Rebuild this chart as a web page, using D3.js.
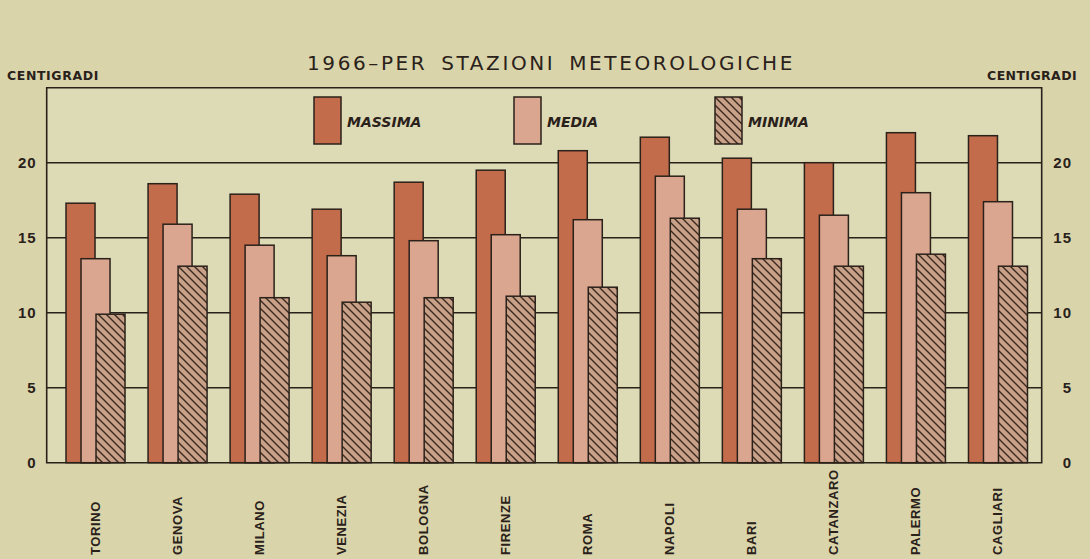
<!DOCTYPE html>
<html>
<head>
<meta charset="utf-8">
<script src="https://cdn.jsdelivr.net/npm/d3@7"></script>
<style>
  body { margin: 0; background: #d9d4aa; }
  svg { display: block; font-family: "DejaVu Sans", sans-serif; }
</style>
</head>
<body>
<svg id="chart"></svg>
<script>
// data (degrees centigrade, 1966)
const cities = ["TORINO", "GENOVA", "MILANO", "VENEZIA", "BOLOGNA", "FIRENZE", "ROMA", "NAPOLI", "BARI", "CATANZARO", "PALERMO", "CAGLIARI"];
const massima = [17.3, 18.6, 17.9, 16.9, 18.7, 19.5, 20.8, 21.7, 20.3, 20.0, 22.0, 21.8];
const media = [13.6, 15.9, 14.5, 13.8, 14.8, 15.2, 16.2, 19.1, 16.9, 16.5, 18.0, 17.4];
const minima = [9.9, 13.1, 11.0, 10.7, 11.0, 11.1, 11.7, 16.3, 13.6, 13.1, 13.9, 13.1];
const seriesNames = ["MASSIMA", "MEDIA", "MINIMA"];
const yTicks = [0, 5, 10, 15, 20];

let width = 1090
let height = 559

let svg = d3.select("#chart")
    .attr("width", width)
    .attr("height", height)

// plot frame
let plotL = 46.7, plotR = 1041.7, plotT = 87.7, plotB = 462.7

let y = d3.scaleLinear().domain([0, 25]).range([plotB, plotT])
// group centres run from ~95 to ~997
let x = d3.scaleBand().domain(cities).range([54, 1038.5]).padding(0)
let sub = d3.scalePoint().domain(seriesNames).range([-29, 1])
let barW = 29

let defs = svg.append("defs")
let pat = defs.append("pattern")
    .attr("id", "hatch")
    .attr("patternUnits", "userSpaceOnUse")
    .attr("width", 8)
    .attr("height", 8)
pat.append("rect").attr("width", 8).attr("height", 8).attr("fill", "#c9a189")
pat.append("path")
    .attr("d", "M0,0 L8,8 M-2,6 L2,10 M6,-2 L10,2")
    .attr("stroke", "#3a2a20")
    .attr("stroke-width", 1.4)

let fills = { "MASSIMA": "#c36c4c", "MEDIA": "#dba68f", "MINIMA": "url(#hatch)" }
let ink = "#2a211a"

// plot background
svg.append("rect")
    .attr("x", plotL).attr("y", plotT)
    .attr("width", plotR - plotL).attr("height", plotB - plotT)
    .attr("fill", "#dddab6")

// grid lines
svg.append("g")
    .selectAll("line")
    .data(yTicks.filter(d => d > 0))
    .enter()
    .append("line")
    .attr("x1", plotL).attr("x2", plotR)
    .attr("y1", d => y(d)).attr("y2", d => y(d))
    .attr("stroke", ink)
    .attr("stroke-width", 1.5)

// frame
svg.append("path")
    .attr("d", "M" + plotL + "," + plotB + "V" + plotT + "H" + plotR + "V" + plotB + "Z")
    .attr("fill", "none")
    .attr("stroke", ink)
    .attr("stroke-width", 1.6)

// bars, one layer per series so media overlaps massima, minima overlaps media
let values = { "MASSIMA": massima, "MEDIA": media, "MINIMA": minima }
seriesNames.forEach(function (s) {
    svg.append("g")
        .selectAll("rect")
        .data(cities)
        .enter()
        .append("rect")
        .attr("x", (c) => x(c) + x.bandwidth() / 2 + sub(s))
        .attr("y", (c, i) => y(values[s][i]))
        .attr("width", barW)
        .attr("height", (c, i) => y(0) - y(values[s][i]))
        .attr("fill", fills[s])
        .attr("stroke", ink)
        .attr("stroke-width", 1.5)
})

// y axes (labels right aligned on both sides)
let yLeft = d3.axisLeft(y).tickValues(yTicks).tickSize(0).tickPadding(10)
svg.append("g")
    .attr("transform", "translate(" + plotL + ",0)")
    .call(yLeft)
    .call(g => g.select(".domain").remove())
    .selectAll("text")
    .style("font-size", "15px")
    .style("font-weight", "bold")
    .style("letter-spacing", "1px")
    .attr("fill", ink)

let yRight = d3.axisLeft(y).tickValues(yTicks).tickSize(0).tickPadding(0)
svg.append("g")
    .attr("transform", "translate(1072,0)")
    .call(yRight)
    .call(g => g.select(".domain").remove())
    .selectAll("text")
    .style("font-size", "15px")
    .style("font-weight", "bold")
    .style("letter-spacing", "1px")
    .attr("fill", ink)

// city labels, rotated
let xAxis = d3.axisBottom(x).tickSize(0).tickPadding(0)
svg.append("g")
    .attr("transform", "translate(0,555)")
    .call(xAxis)
    .call(g => g.select(".domain").remove())
    .selectAll("text")
    .attr("transform", "rotate(-90)")
    .attr("x", 0)
    .attr("y", 0)
    .attr("dy", "0.36em")
    .attr("text-anchor", "start")
    .style("font-size", "13px")
    .style("font-weight", "bold")
    .style("letter-spacing", "0.6px")
    .attr("fill", ink)

// title and unit labels
svg.append("text")
    .attr("x", 551)
    .attr("y", 70)
    .attr("text-anchor", "middle")
    .style("font-size", "20px")
    .style("letter-spacing", "2.6px")
    .style("word-spacing", "5px")
    .attr("fill", ink)
    .text("1966–PER STAZIONI METEOROLOGICHE")

svg.append("text")
    .attr("x", 7).attr("y", 80)
    .style("font-size", "12.5px").style("font-weight", "bold")
    .style("letter-spacing", "0.6px")
    .attr("fill", ink)
    .text("CENTIGRADI")

svg.append("text")
    .attr("x", 1077).attr("y", 80)
    .attr("text-anchor", "end")
    .style("font-size", "12.5px").style("font-weight", "bold")
    .style("letter-spacing", "0.4px")
    .attr("fill", ink)
    .text("CENTIGRADI")

// legend
let legendX = [314, 514, 715]
let legend = svg.append("g")
    .selectAll("g")
    .data(seriesNames)
    .enter()
    .append("g")
    .attr("transform", (d, i) => "translate(" + legendX[i] + ",97)")
legend.append("rect")
    .attr("width", 27)
    .attr("height", 47)
    .attr("fill", d => fills[d])
    .attr("stroke", ink)
    .attr("stroke-width", 1.5)
legend.append("text")
    .attr("x", 33)
    .attr("y", 30)
    .style("font-size", "14px")
    .style("font-weight", "bold")
    .style("font-style", "italic")
    .attr("fill", ink)
    .text(d => d)
</script>
</body>
</html>
